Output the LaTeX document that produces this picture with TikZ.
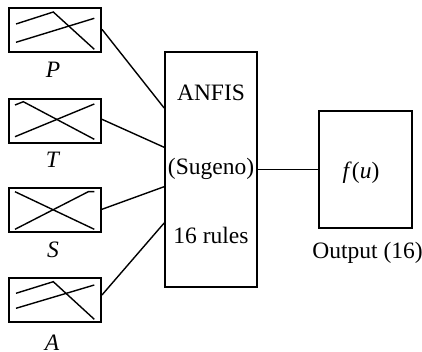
\documentclass[tikz,border=0pt]{standalone}
\usepackage{fontspec}
\setmainfont{Liberation Serif}
\begin{document}
\begin{tikzpicture}[x=1pt,y=-1pt,
  inbox/.style={draw,line width=1.9pt,inner sep=0pt,minimum width=92pt,minimum height=44pt},
  bigbox/.style={draw,line width=1.7pt,inner sep=0pt},
  mf/.style={line width=1.4pt},
  conn/.style={line width=1.4pt},
  txt/.style={inner sep=0pt,anchor=base,font=\fontsize{23.5}{27}\selectfont}]
\useasboundingbox (0,0) rectangle (422,352);
% input boxes
\node[inbox] (p) at (55,30.4) {};
\node[inbox] (t) at (55,120.7) {};
\node[inbox] (s) at (55,210.2) {};
\node[inbox] (a) at (55,300) {};
% membership sketches
\draw[mf] (16,24) -- (53.3,12) -- (94.3,49.3);
\draw[mf] (16,42.3) -- (94.3,18.3);
\draw[mf] (15,105) -- (23.3,101.7) -- (94.3,139.3);
\draw[mf] (15,136.7) -- (94.3,104);
\draw[mf] (15,191.7) -- (94.3,229.3);
\draw[mf] (15,229.3) -- (88.3,191.7) -- (94.3,191.7);
\draw[mf] (16,293.3) -- (53.3,281.7) -- (94.3,319.3);
\draw[mf] (16,308.3) -- (94.3,285);
% labels
\node[txt] (lp) at (53,78) {\textit{P}};
\node[txt] (lt) at (53,168) {\textit{T}};
\node[txt] (ls) at (53,258) {\textit{S}};
\node[txt,text depth=0pt] (la) at (52,350) {\textit{A}};
% ANFIS box
\node[bigbox,minimum width=92pt,minimum height=235pt] (anfis) at (211,169.5) {};
\node[txt] (t1) at (211,100.7) {ANFIS};
\node[txt] (t2) at (211,175) {(Sugeno)};
\node[txt] (t3) at (211,243.5) {16 rules};
% output box
\node[bigbox,minimum width=93pt,minimum height=117pt] (out) at (365.5,169.5) {};
\node[txt] (fu) at (361,178.5) {\textit{f}(\textit{u})};
\node[txt] (ol) at (367.5,258.5) {Output (16)};
% connectors
\coordinate (ip) at (anfis.west |- 0,108);
\coordinate (it) at (anfis.west |- 0,147.3);
\coordinate (is) at (anfis.west |- 0,186.7);
\coordinate (ia) at (anfis.west |- 0,223);
\draw[conn] (p.east |- 0,29.3) -- (ip);
\draw[conn] (t.east |- 0,119.3) -- (it);
\draw[conn] (s.east |- 0,209.3) -- (is);
\draw[conn] (a.east |- 0,295) -- (ia);
\draw[conn] (anfis.east |- out.west) -- (out.west);
\end{tikzpicture}
\end{document}
